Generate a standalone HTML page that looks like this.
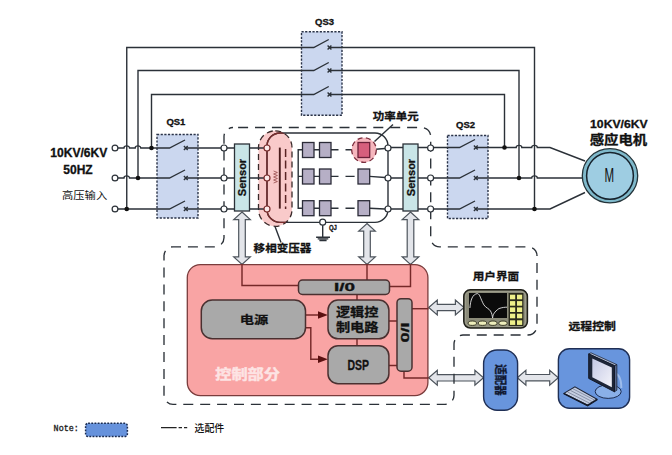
<!DOCTYPE html>
<html lang="zh"><head><meta charset="utf-8"><title>高压变频器系统结构图</title>
<style>
html,body{margin:0;padding:0;background:#fff}
svg{display:block}
text{font-family:"Liberation Sans","Noto Sans CJK SC",sans-serif;fill:#111}
.b{font-weight:bold;stroke:#111;stroke-width:0.3;paint-order:stroke}
.ln path,.ln line{fill:none;stroke:#2b3138;stroke-width:1.4}
.dash{fill:none;stroke:#2b3138;stroke-width:1.35;stroke-dasharray:10 6.9}
.qs{fill:#cbd7ef;stroke:#2a3348;stroke-width:1.4;stroke-dasharray:2.2 1.45}
.node{fill:#fff;stroke:#2b3138;stroke-width:1.2}
.dot{fill:#111}
.cell{fill:#b6afc6;stroke:#2b2b38;stroke-width:1.3}
.sen{fill:#c9e5e7;stroke:#2b3138;stroke-width:1.3}
.gry{fill:#a9a9a9;stroke:#4a3030;stroke-width:1.5}
.arw{fill:#e3e5ea;stroke:#4d545c;stroke-width:1.2;stroke-linejoin:miter}
.rl{fill:none;stroke:#762828;stroke-width:1.45}
.blu{fill:#6895dd;stroke:#1f2f55;stroke-width:1.4}
</style></head><body>
<svg width="672" height="455" viewBox="0 0 672 455">
<rect width="672" height="455" fill="#fff"/>
<rect class="qs" x="157" y="134.5" width="41" height="83.5"/>
<rect class="qs" x="301.5" y="31.8" width="40.5" height="83.5"/>
<rect class="qs" x="447.5" y="135.5" width="40.5" height="83"/>
<path class="arw" d="M242 212l8.3 7.6h-5.000000000000001V256.9h5.000000000000001L242 264.5l-8.3 -7.6h5.000000000000001V219.6h-5.000000000000001Z"/>
<path class="arw" d="M367 223.5l8.3 7.6h-5.000000000000001V256.9h5.000000000000001L367 264.5l-8.3 -7.6h5.000000000000001V231.1h-5.000000000000001Z"/>
<path class="arw" d="M410.5 212l8.3 7.6h-5.000000000000001V256.9h5.000000000000001L410.5 264.5l-8.3 -7.6h5.000000000000001V219.6h-5.000000000000001Z"/>
<path class="arw" d="M428.7 307.5l8.6 -7.5v4.3H455.4v-4.3L464 307.5l-8.6 7.5v-4.3H437.3v4.3Z"/>
<path class="arw" d="M428.7 377.8l8.6 -7.5v4.3H474.9v-4.3L483.5 377.8l-8.6 7.5v-4.3H437.3v4.3Z"/>
<path class="arw" d="M517.3 377.7l8.6 -7.5v4.3H549.6999999999999v-4.3L558.3 377.7l-8.6 7.5v-4.3H525.9v4.3Z"/>
<path class="dash" stroke-dashoffset="11.8" d="M233 127.5H421.7a9 9 0 0 1 9 9V237.8a9 9 0 0 0 9 9H528a9 9 0 0 1 9 9V326a9 9 0 0 1 -9 9H463a9 9 0 0 0 -9 9V395.3a9 9 0 0 1 -9 9H173a9 9 0 0 1 -9 -9V255.8a9 9 0 0 1 9 -9H215a9 9 0 0 0 9 -9V136.5a9 9 0 0 1 9 -9Z"/>
<rect x="258.5" y="130.8" width="33.5" height="95.5" rx="16.75" fill="#f9caca" stroke="#3a2a2a" stroke-width="1.3" stroke-dasharray="6 4"/>
<g class="ln">
<path d="M126.75 209V47.5H313.75L328.75 39.5M329.5 47.5H534.5V209"/>
<path d="M138 178V70.5H313.75L328.75 62.5M329.5 70.5H519V178"/>
<path d="M151.5 148V94.5H313.75L328.75 86.5M329.5 94.5H504.5V147.5"/>
<path d="M327.6 45.6l3.8 3.8m0 -3.8l-3.8 3.8" stroke-width="1"/>
<path d="M327.6 68.6l3.8 3.8m0 -3.8l-3.8 3.8" stroke-width="1"/>
<path d="M327.6 92.6l3.8 3.8m0 -3.8l-3.8 3.8" stroke-width="1"/>
<path d="M118 148H123.95a2.8 2.1 0 0 1 5.6 0H135.2a2.8 2.1 0 0 1 5.6 0H169.5L185 140M185.8 148H221"/>
<path d="M118 178H123.95a2.8 2.1 0 0 1 5.6 0H169.5L185 170M185.8 178H221"/>
<path d="M118 209H169.5L185 201M185.8 209H221"/>
<path d="M183.9 146.1l3.8 3.8m0 -3.8l-3.8 3.8" stroke-width="1"/>
<path d="M227 148H234.5M249.5 148H264"/>
<path d="M183.9 176.1l3.8 3.8m0 -3.8l-3.8 3.8" stroke-width="1"/>
<path d="M227 178H234.5M249.5 178H264"/>
<path d="M183.9 207.1l3.8 3.8m0 -3.8l-3.8 3.8" stroke-width="1"/>
<path d="M227 209H234.5M249.5 209H264"/>
<path d="M433.6 147.5H459.5L475 139.5M475.8 147.5H516.2a2.8 2.1 0 0 1 5.6 0H531.7a2.8 2.1 0 0 1 5.6 0H550L585 161"/>
<path d="M433.6 178H459.5L475 170M475.8 178H531.7a2.8 2.1 0 0 1 5.6 0H582"/>
<path d="M433.6 209H459.5L475 201M475.8 209H550L585 192.5"/>
<path d="M473.9 145.6l3.8 3.8m0 -3.8l-3.8 3.8" stroke-width="1"/>
<path d="M391 147.5H403M418 147.5H427.6"/>
<path d="M473.9 176.1l3.8 3.8m0 -3.8l-3.8 3.8" stroke-width="1"/>
<path d="M391 178H403M418 178H427.6"/>
<path d="M473.9 207.1l3.8 3.8m0 -3.8l-3.8 3.8" stroke-width="1"/>
<path d="M391 209H403M418 209H427.6"/>
<path id="inner" d="M280 133H375a13 13 0 0 1 13 13V209.4a13 13 0 0 1 -13 13H280a13 13 0 0 1 -13 -13V146a13 13 0 0 1 13 -13Z"/>
<path d="M302.5 149.8H298.2V208.3H302.5M298.2 176.4H302.5"/>
<path d="M314 149.8H319.5M331 149.8H338.5M345.5 149.8H354.6"/>
<path d="M314 176.4H319.5M331 176.4H338.5M345.5 176.4H354.6"/>
<path d="M314 208.3H319.5M331 208.3H338.5M345.5 208.3H354.6"/>
<path d="M369.5 149.8L385 148.5M369.5 176.4L385 177.5M369.5 208.3L385 209"/>
<path d="M322.7 225V237.2M316.1 237.2H330M317.7 238.9H328.3M319.4 240.5H326.6"/>
<path d="M374.5 141.5L393 124.5" stroke-width="1"/>
<path d="M275 226.5L281 242.5" stroke-width="1"/>
</g>
<clipPath id="pc"><rect x="258.5" y="130.8" width="33.5" height="95.5" rx="16.75"/></clipPath>
<g clip-path="url(#pc)"><path d="M292 133H280a13 13 0 0 0 -13 13V209.4a13 13 0 0 0 13 13H292" fill="none" stroke="#7a2c2c" stroke-width="1.4"/></g>
<path d="M279.8 147.6V208.6" stroke="#4a1c1c" stroke-width="1.9" fill="none"/>
<path d="M285.6 149V209" stroke="#5a2424" stroke-width="1.5" stroke-dasharray="8 3.5" fill="none"/>
<path d="M273.6 171l3.8 1.5-3.8 1.5 3.8 1.5-3.8 1.5 3.8 1.5-3.8 1.5 3.8 1.5-3.8 1.5" stroke="#8a3a3a" stroke-width="0.7" fill="none"/>
<circle class="dot" cx="151.5" cy="148" r="2.3"/>
<circle class="dot" cx="138" cy="178" r="2.3"/>
<circle class="dot" cx="126.75" cy="209" r="2.3"/>
<circle class="dot" cx="504.5" cy="147.5" r="2.3"/>
<circle class="dot" cx="519" cy="178" r="2.3"/>
<circle class="dot" cx="534.5" cy="209" r="2.3"/>
<circle class="node" cx="115" cy="148" r="2.9"/>
<circle class="node" cx="224" cy="148" r="3"/>
<circle class="node" cx="267" cy="148" r="3" style="stroke:#7a2c2c;fill:#fdeaea"/>
<circle class="node" cx="388" cy="148" r="3"/>
<circle class="node" cx="430.6" cy="148" r="3"/>
<circle class="node" cx="115" cy="178" r="2.9"/>
<circle class="node" cx="224" cy="178" r="3"/>
<circle class="node" cx="267" cy="178" r="3" style="stroke:#7a2c2c;fill:#fdeaea"/>
<circle class="node" cx="388" cy="178" r="3"/>
<circle class="node" cx="430.6" cy="178" r="3"/>
<circle class="node" cx="115" cy="209" r="2.9"/>
<circle class="node" cx="224" cy="209" r="3"/>
<circle class="node" cx="267" cy="209" r="3" style="stroke:#7a2c2c;fill:#fdeaea"/>
<circle class="node" cx="388" cy="209" r="3"/>
<circle class="node" cx="430.6" cy="209" r="3"/>
<circle class="node" cx="322.7" cy="222.2" r="3"/>
<rect class="sen" x="234.5" y="144" width="15" height="67"/>
<rect class="sen" x="403" y="144" width="15" height="67"/>
<text class="b" font-size="11" text-anchor="middle" transform="translate(246 177.5) rotate(-90)">Sensor</text>
<text class="b" font-size="11" text-anchor="middle" transform="translate(414.5 177.5) rotate(-90)">Sensor</text>
<circle cx="364" cy="150" r="12.3" fill="#f5b6bd" stroke="#7a2c3c" stroke-width="1.3" stroke-dasharray="5 3.5"/>
<rect class="cell" x="302.5" y="142.5" width="11.5" height="15"/>
<rect class="cell" x="319.5" y="142.5" width="11.5" height="15"/>
<rect class="cell" x="302.5" y="169" width="11.5" height="15"/>
<rect class="cell" x="319.5" y="169" width="11.5" height="15"/>
<rect class="cell" x="302.5" y="200.7" width="11.5" height="15"/>
<rect class="cell" x="319.5" y="200.7" width="11.5" height="15"/>
<rect x="358" y="142.5" width="11.7" height="15" fill="#d65f7c" stroke="#6a2038" stroke-width="1.3"/>
<rect class="cell" x="358" y="169" width="11.7" height="15"/>
<rect class="cell" x="358" y="200.7" width="11.7" height="15"/>
<ellipse cx="610" cy="175.8" rx="27.7" ry="27.1" fill="#7fb9cb" stroke="#24343a" stroke-width="1.3"/>
<circle cx="610" cy="175.8" r="23.4" fill="#9ecde2" stroke="#16222c" stroke-width="1.5"/>
<text x="609.4" y="181.6" font-size="20" text-anchor="middle" textLength="9.6" lengthAdjust="spacingAndGlyphs" fill="#1e2a34">M</text>
<rect x="187.3" y="264.6" width="240.6" height="131" rx="13" fill="#f9a4a4" stroke="#7a3c3c" stroke-width="1.3"/>
<g class="rl">
<path d="M242 264V285.5H299"/>
<path d="M367 264V280"/>
<path d="M410.5 264V286.5H389.5"/>
<path d="M357 294.5V300M357 338.7V346"/>
<path d="M388.7 321H397M388.7 365.5H397"/>
<path d="M412 308.7H428.5"/>
<path d="M404 371V378H428.5"/>
<path d="M305.5 315H320M305.5 327.7H310.8V359.2H320"/>
</g>
<path d="M318 311.3L327.8 315L318 318.7Z" fill="#5a1010"/>
<path d="M318 355.5L327.8 359.2L318 362.9Z" fill="#5a1010"/>
<rect class="gry" x="298.5" y="280" width="91" height="14.5" rx="4"/>
<rect class="gry" x="201.3" y="300" width="104.2" height="38.8" rx="11"/>
<rect class="gry" x="328" y="300" width="60.9" height="38.8" rx="10"/>
<rect class="gry" x="328" y="345.7" width="60.9" height="38" rx="10"/>
<rect class="gry" x="397" y="298.7" width="15" height="72.5" rx="4"/>
<text class="b" x="334" y="291.4" font-size="10.5" textLength="21" lengthAdjust="spacingAndGlyphs">I/0</text>
<text class="b" font-size="10.5" textLength="20" lengthAdjust="spacingAndGlyphs" transform="translate(400.7 322.5) rotate(90)">I/0</text>
<text class="b" font-size="14.3" text-anchor="middle" transform="translate(254 324.3) scale(1 0.82)">电源</text>
<text class="b" font-size="14.2" text-anchor="middle" transform="translate(357.2 316.8) scale(1 0.85)">逻辑控</text>
<text class="b" font-size="14.2" text-anchor="middle" transform="translate(357.2 332) scale(1 0.85)">制电路</text>
<text class="b" x="358.3" y="369.6" font-size="14" text-anchor="middle" textLength="21.5" lengthAdjust="spacingAndGlyphs">DSP</text>
<text class="b" font-size="16.2" text-anchor="middle" transform="translate(247.6 379.2) scale(1 0.83)" style="fill:#fde4e4;stroke:#fde4e4;stroke-width:0.5">控制部分</text>
<rect x="463.8" y="289.8" width="63.6" height="38.2" rx="6.5" fill="#8b8b79" stroke="#1e1e18" stroke-width="1.5"/>
<rect x="465.6" y="291.6" width="60" height="34.6" rx="5" fill="none" stroke="#a6a694" stroke-width="0.8"/>
<rect x="469" y="293" width="38" height="25" fill="#0b0b0b"/>
<path d="M469.9 308C470.5 300 472.5 294 477.5 293.6C480 294 480.5 299 483.9 304.9C486 308 489 308.5 490.5 311C492 313.5 492.3 316 492.6 318C493 314.5 494.3 311.9 498.9 308.6C502 307.4 505 307.2 507 307.2" fill="none" stroke="#e6e6e6" stroke-width="0.9"/>
<rect x="508.6" y="293" width="14.8" height="33" fill="#2a2a1c"/>
<rect x="510" y="294.7" width="5.2" height="4.6" fill="#eef08a"/>
<rect x="517" y="294.7" width="5.2" height="4.6" fill="#eef08a"/>
<rect x="510" y="301.1" width="5.2" height="4.6" fill="#eef08a"/>
<rect x="517" y="301.1" width="5.2" height="4.6" fill="#eef08a"/>
<rect x="510" y="307.4" width="5.2" height="4.6" fill="#eef08a"/>
<rect x="517" y="307.4" width="5.2" height="4.6" fill="#eef08a"/>
<rect x="510" y="313.7" width="5.2" height="4.6" fill="#eef08a"/>
<rect x="517" y="313.7" width="5.2" height="4.6" fill="#eef08a"/>
<rect x="510" y="320.3" width="5.2" height="4.6" fill="#eef08a"/>
<rect x="517" y="320.3" width="5.2" height="4.6" fill="#eef08a"/>
<ellipse cx="472.3" cy="323.2" rx="4.2" ry="2.2" fill="#eeeebc" stroke="#2a2a1a" stroke-width="0.9"/>
<ellipse cx="482.5" cy="323.2" rx="4.2" ry="2.2" fill="#eeeebc" stroke="#2a2a1a" stroke-width="0.9"/>
<ellipse cx="492.9" cy="323.2" rx="4.2" ry="2.2" fill="#eeeebc" stroke="#2a2a1a" stroke-width="0.9"/>
<ellipse cx="503" cy="323.2" rx="4.2" ry="2.2" fill="#eeeebc" stroke="#2a2a1a" stroke-width="0.9"/>
<rect class="blu" x="483.6" y="350" width="34" height="60.3" rx="13.5"/>
<text class="b" font-size="11" text-anchor="middle" transform="translate(496 380) rotate(90) scale(0.95 1.12)" style="fill:#101830;stroke:#101830">适配器</text>
<rect class="blu" x="558.4" y="348.7" width="71.2" height="59.5" rx="11"/>
<ellipse cx="608.2" cy="391.6" rx="13" ry="6.8" fill="#8ab0e8" stroke="#1c2c50" stroke-width="1"/>
<path d="M612 372C618 373 621.5 378 621.3 388" fill="none" stroke="#9dbcec" stroke-width="2"/>
<path d="M588.7 353.9L591 352.8L616.9 364.6L614.5 365.7Z" fill="#aab4cc" stroke="#161c2c" stroke-width="0.7"/>
<path d="M614.5 365.7L616.9 364.6V390.2L614.5 391.8Z" fill="#56668a" stroke="#161c2c" stroke-width="0.7"/>
<path d="M588.7 353.9L614.5 365.7V391.8L588.7 378.4Z" fill="#1e2638" stroke="#141a2a" stroke-width="1"/>
<linearGradient id="scr" x1="0" y1="0" x2="1" y2="1"><stop offset="0" stop-color="#c4c8e4"/><stop offset="1" stop-color="#f4f4fa"/></linearGradient>
<path d="M592.3 358.4L611.8 367.6V387.3L592.3 377.2Z" fill="url(#scr)"/>
<path d="M563.9 393.4L574.9 386.8L597.1 399.3L587.6 405.3Z" fill="#c4cde0" stroke="#1c2438" stroke-width="1.1"/>
<path d="M563.9 393.6L587.6 405.5L597.1 399.5" fill="none" stroke="#141a2a" stroke-width="1.6"/>
<path d="M567.6 392L589.8 403.3M570.4 390.4L592.4 401.7M573 388.8L594.8 400.2" stroke="#6e7890" stroke-width="0.7" fill="none"/>
<text class="b" x="175.9" y="125.4" font-size="9.5" text-anchor="middle">QS1</text>
<text class="b" x="324.6" y="24.9" font-size="9.5" text-anchor="middle">QS3</text>
<text class="b" x="465.6" y="127.8" font-size="9.5" text-anchor="middle">QS2</text>
<text class="b" x="50.2" y="157.2" font-size="12.1" textLength="57.2" lengthAdjust="spacingAndGlyphs">10KV/6KV</text>
<text class="b" x="78" y="174" font-size="12" text-anchor="middle">50HZ</text>
<text class="" font-size="11.3" text-anchor="middle" transform="translate(84.6 198.6) scale(1 0.9)">高压输入</text>
<text class="b" x="590.1" y="128.2" font-size="11.8" textLength="57.6" lengthAdjust="spacingAndGlyphs">10KV/6KV</text>
<text class="b" font-size="14.4" text-anchor="middle" transform="translate(618.4 144.2) scale(1 0.88)">感应电机</text>
<text class="b" font-size="11.5" text-anchor="middle" transform="translate(395.7 120.2) scale(1 0.9)">功率单元</text>
<text class="b" font-size="11.6" text-anchor="middle" transform="translate(282.5 252) scale(1 0.88)">移相变压器</text>
<text class="b" x="328.9" y="230.3" font-size="7.6" textLength="8" lengthAdjust="spacingAndGlyphs">QJ</text>
<text class="b" font-size="11.6" text-anchor="middle" transform="translate(495.9 280.2) scale(1 0.9)">用户界面</text>
<text class="b" font-size="11.9" text-anchor="middle" transform="translate(592.2 330.2) scale(1 0.88)">远程控制</text>
<text font-size="8.4" transform="translate(53.6 431.4) scale(1 1.18)" style="font-family:'Liberation Mono',monospace;fill:#1a1a1a;stroke:#1a1a1a;stroke-width:0.3">Note:</text>
<rect x="85.6" y="423.3" width="41.8" height="13.2" rx="2.5" fill="#6692dc" stroke="#1c2c50" stroke-width="1.5" stroke-dasharray="1.8 1.4"/>
<path d="M161 427.6H176.6M178.6 427.6H182M184 427.6H187.2" stroke="#222" stroke-width="1.2" fill="none"/>
<text x="194.5" y="431.7" font-size="9.9" font-weight="500">选配件</text>
</svg>
</body></html>
